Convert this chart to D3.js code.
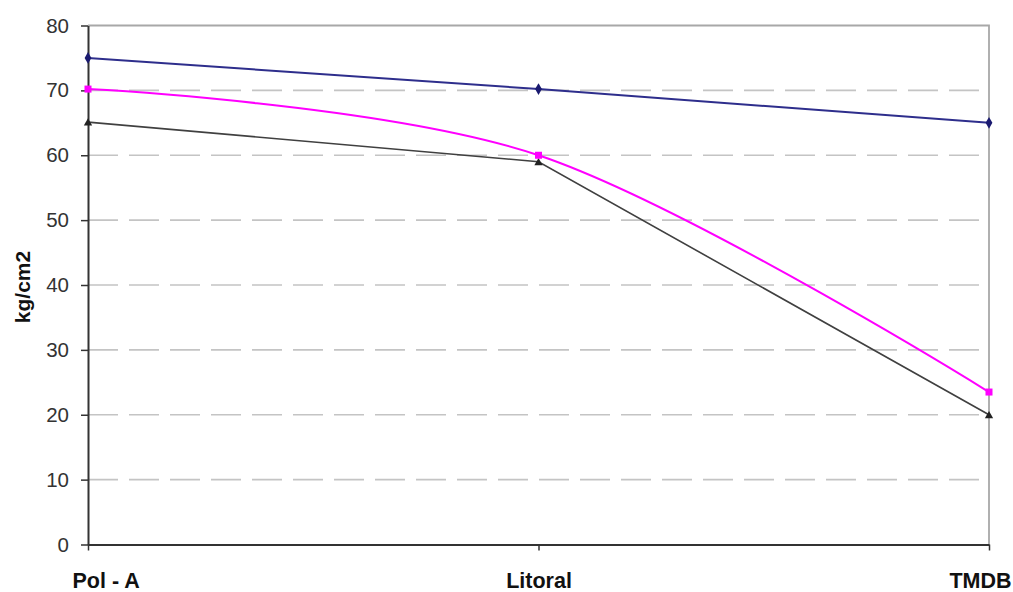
<!DOCTYPE html>
<html>
<head>
<meta charset="utf-8">
<script src="https://cdn.jsdelivr.net/npm/d3@7"></script>
<style>
  body { margin: 0; background: #fff; }
  svg { display: block; font-family: Arial, "Liberation Sans", sans-serif; }
</style>
</head>
<body>
<svg id="chart" width="1013" height="592"></svg>
<script>
const categories = ["Pol - A", "Litoral", "TMDB"];
const seriesBlue = [75, 70.2, 65];
const seriesPink = [70.2, 60, 23.5];
const seriesBlack = [65.1, 59, 20];
const yTicks = [0, 10, 20, 30, 40, 50, 60, 70, 80];
const yLabel = "kg/cm2";

const svg = d3.select("#chart");
const margin = { left: 88, right: 1013 - 989, top: 25.5, bottom: 592 - 544.5 };
const W = 1013, H = 592;

const x = d3.scalePoint().domain(categories).range([margin.left, W - margin.right]);
const y = d3.scaleLinear().domain([0, 80]).range([H - margin.bottom, margin.top]);

// gridlines (dashed)
svg.append("g").selectAll("line")
  .data(yTicks.filter(t => t > 0 && t < 80))
  .join("line")
  .attr("x1", margin.left).attr("x2", W - margin.right)
  .attr("y1", d => y(d)).attr("y2", d => y(d))
  .attr("stroke", "#c4c4c4").attr("stroke-width", 1.6)
  .attr("stroke-dasharray", "30,11");

// plot border top & right
svg.append("path")
  .attr("d", `M${margin.left},${y(80)}H${W - margin.right}V${y(0)}`)
  .attr("fill", "none").attr("stroke", "#a8a8a8").attr("stroke-width", 1.8);

// y axis
const yAxis = d3.axisLeft(y).tickValues(yTicks).tickSize(7).tickSizeOuter(0).tickPadding(12);
const gy = svg.append("g").attr("transform", `translate(${margin.left},0)`).call(yAxis);
gy.select(".domain").attr("stroke", "#333").attr("stroke-width", 2);
gy.selectAll(".tick line").attr("stroke", "#333").attr("stroke-width", 1.5);
gy.selectAll(".tick text").attr("font-size", 20.5).attr("fill", "#333")
  .attr("font-family", "Arial, 'Liberation Sans', sans-serif");

// x axis
const xAxis = d3.axisBottom(x).tickSize(6).tickSizeOuter(0).tickPadding(22);
const gx = svg.append("g").attr("transform", `translate(0,${y(0)})`).call(xAxis);
gx.select(".domain").attr("stroke", "#333").attr("stroke-width", 2);
gx.selectAll(".tick line").attr("stroke", "#333").attr("stroke-width", 1.5);
gx.selectAll(".tick text").attr("font-size", 21.5).attr("font-weight", "bold").attr("fill", "#111")
  .attr("font-family", "Arial, 'Liberation Sans', sans-serif")
  .attr("text-anchor", (d, i) => i === 0 ? "start" : (i === categories.length - 1 ? "end" : "middle"))
  .attr("dx", (d, i) => i === 0 ? -16 : (i === categories.length - 1 ? 22 : 0));

// y label
svg.append("text")
  .attr("transform", `translate(30,${(y(0) + y(80)) / 2 + 2}) rotate(-90)`)
  .attr("text-anchor", "middle")
  .attr("font-size", 21).attr("font-weight", "bold").attr("fill", "#111")
  .text(yLabel);

// lines
const lineStraight = d3.line().x((d, i) => x(categories[i])).y(d => y(d));
const lineSmooth = d3.line().x((d, i) => x(categories[i])).y(d => y(d)).curve(d3.curveCatmullRom.alpha(0));

svg.append("path").datum(seriesBlack).attr("d", lineStraight)
  .attr("fill", "none").attr("stroke", "#404040").attr("stroke-width", 1.6);
svg.append("path").datum(seriesPink).attr("d", lineSmooth)
  .attr("fill", "none").attr("stroke", "#ff00ff").attr("stroke-width", 2);
svg.append("path").datum(seriesBlue).attr("d", lineStraight)
  .attr("fill", "none").attr("stroke", "#2e2e8c").attr("stroke-width", 2);

// markers
svg.append("g").selectAll("path").data(seriesBlack).join("path")
  .attr("transform", (d, i) => `translate(${x(categories[i])},${y(d) + 1})`)
  .attr("d", d3.symbol(d3.symbolTriangle, 30))
  .attr("fill", "#222");
svg.append("g").selectAll("rect").data(seriesPink).join("rect")
  .attr("x", (d, i) => x(categories[i]) - 3.5).attr("y", d => y(d) - 3.5)
  .attr("width", 7).attr("height", 7).attr("fill", "#ff00ff");
svg.append("g").selectAll("path").data(seriesBlue).join("path")
  .attr("transform", (d, i) => `translate(${x(categories[i])},${y(d)})`)
  .attr("d", d3.symbol(d3.symbolDiamond, 40))
  .attr("fill", "#1a1a70");
</script>
</body>
</html>
